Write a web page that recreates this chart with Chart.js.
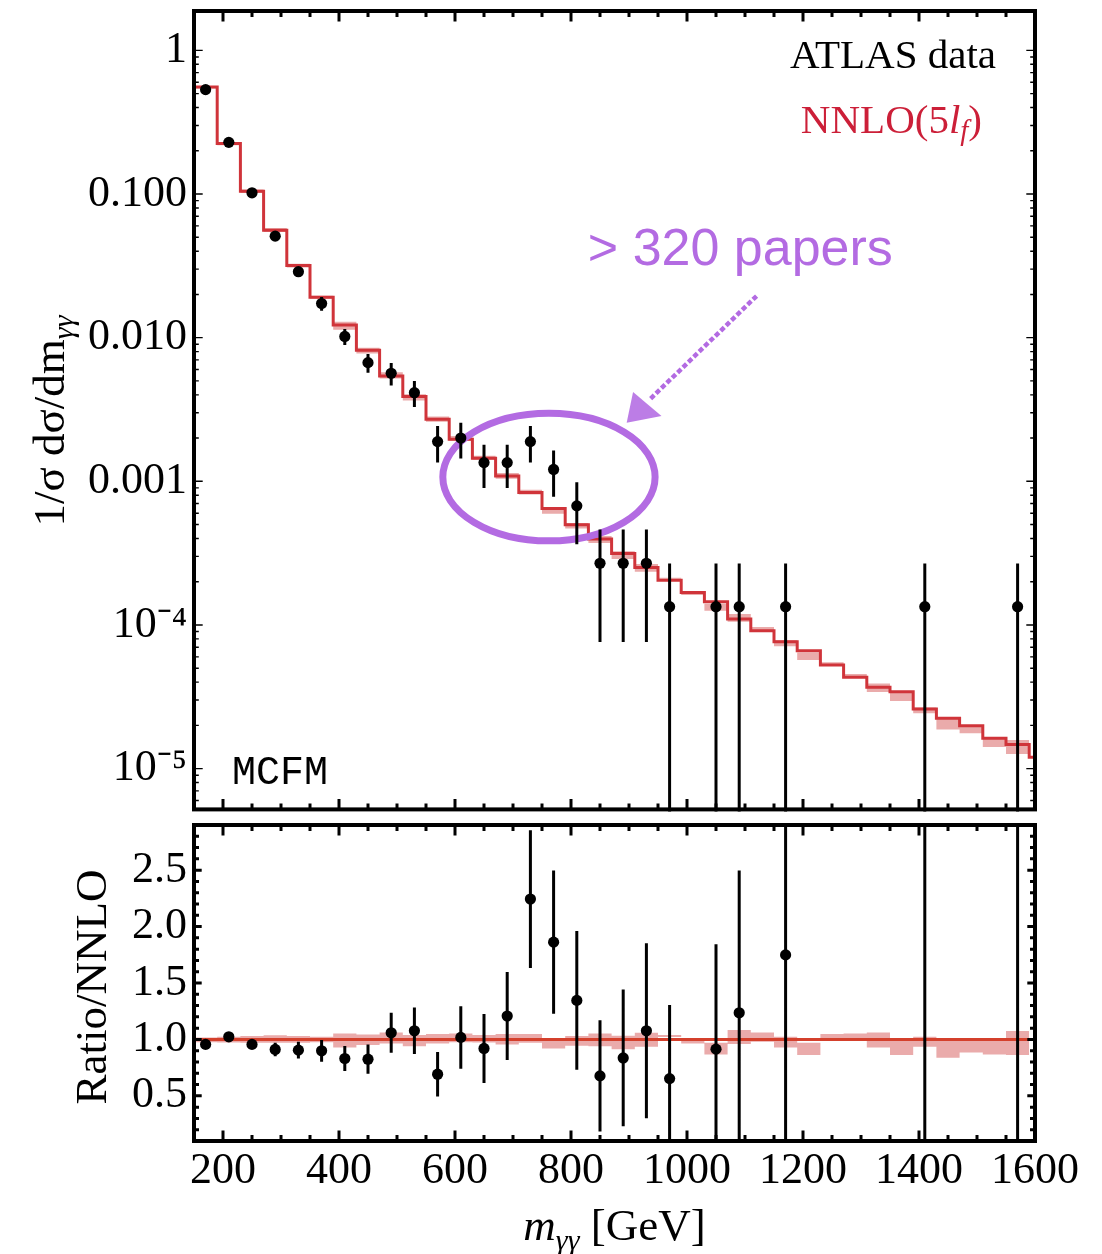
<!DOCTYPE html>
<html>
<head>
<meta charset="utf-8">
<title>Diphoton invariant mass: ATLAS data vs NNLO</title>
<script src="https://cdn.jsdelivr.net/npm/chart.js@4.4.1/dist/chart.umd.min.js"></script>
<style>
  html, body { margin: 0; padding: 0; background: #fff; }
  #wrap { position: relative; width: 1102px; height: 1254px; overflow: hidden; background: #fff; }
  canvas { position: absolute; left: 0; }
  #cTop { top: 0; }
  #cRatio { top: 815px; }
</style>
</head>
<body>
<div id="wrap">
  <canvas id="cTop" width="1102" height="815"></canvas>
  <canvas id="cRatio" width="1102" height="439"></canvas>
</div>
<script>
// ---------- NNLO(5lf) prediction, 40 GeV bins (edges in GeV) ----------
const binEdges = [150, 190, 230, 270, 310, 350, 390, 430, 470, 510, 550, 590, 630, 670, 710,
  750, 790, 830, 870, 910, 950, 990, 1030, 1070, 1110, 1150, 1190, 1230, 1270, 1310, 1350,
  1390, 1430, 1470, 1510, 1550, 1590, 1630];
const nnlo = [0.556, 0.2245, 0.1046, 0.0560, 0.0318, 0.01915, 0.01224, 0.00816, 0.00540,
  0.00389, 0.00270, 0.00196, 0.00145, 0.00109, 0.000836, 0.000647, 0.000498, 0.000396,
  0.000315, 0.000251, 0.000205, 0.000168, 0.000145, 0.000110, 9.12e-5, 7.64e-5, 6.62e-5,
  5.26e-5, 4.32e-5, 3.68e-5, 3.43e-5, 2.60e-5, 2.24e-5, 1.99e-5, 1.63e-5, 1.47e-5, 1.20e-5];
// scale-uncertainty envelope relative to the central NNLO value
const bandHi = [1.018, 1.024, 1.030, 1.036, 1.030, 1.024, 1.053, 1.044, 1.062, 1.039, 1.047,
  1.053, 1.039, 1.047, 1.047, 1.010, 1.030, 1.053, 1.033, 1.059, 1.040, 0.994, 0.970, 1.083,
  1.062, 1.024, 0.970, 1.047, 1.053, 1.062, 1.000, 1.024, 1.000, 1.000, 1.000, 1.074];
const bandLo = [0.976, 0.973, 0.970, 0.970, 0.970, 0.976, 0.929, 0.950, 0.964, 0.940, 0.964,
  0.976, 0.973, 0.956, 0.970, 0.920, 0.944, 0.940, 0.914, 0.935, 1.022, 0.964, 0.867, 0.959,
  0.979, 0.929, 0.861, 0.994, 1.000, 0.929, 0.861, 0.935, 0.837, 0.884, 0.867, 0.861];

// ---------- ATLAS measurement ----------
const dataMass = [170, 210, 250, 290, 330, 370, 410, 450, 490, 530, 570, 610, 650, 690, 730,
  770, 810, 850, 890, 930, 970, 1050, 1090, 1170, 1410, 1570];
const dataXsec = [0.533, 0.229, 0.102, 0.0509, 0.0288, 0.0173, 0.0102, 0.0067, 0.00565,
  0.00414, 0.00189, 0.00200, 0.00135, 0.00135, 0.00189, 0.00121, 0.000675, 0.000269,
  0.000269, 0.000269, 0.000134, 0.000134, 0.000134, 0.000134, 0.000134, 0.000134];
const dataXsecErr = [0.006, 0.004, 0.0025, 0.0033, 0.0023, 0.0019, 0.0013, 0.0010, 0.0010,
  0.00085, 0.00054, 0.00056, 0.00045, 0.00045, 0.00054, 0.00043, 0.00031, 0.000193,
  0.000193, 0.000193, 0.000134, 0.000134, 0.000134, 0.000134, 0.000134, 0.000134];
const dataRatio = [0.956, 1.023, 0.956, 0.911, 0.905, 0.899, 0.831, 0.825, 1.059, 1.077,
  0.692, 1.018, 0.920, 1.207, 2.244, 1.862, 1.346, 0.677, 0.836, 1.077, 0.653, 0.914, 1.236,
  1.749, 5.15, 9.10];
const dataRatioErr = [0.015, 0.020, 0.025, 0.059, 0.074, 0.096, 0.111, 0.130, 0.178, 0.207,
  0.197, 0.277, 0.305, 0.390, 0.610, 0.634, 0.615, 0.492, 0.606, 0.775, 0.653, 0.930, 1.260,
  1.749, 5.15, 9.10];

// ---------- axis ticks ----------
const topTickValues = [1, 0.1, 0.01, 0.001, 1e-4, 1e-5];
const topTickLabels = ['1', '0.100', '0.010', '0.001', '10\u207B\u2074', '10\u207B\u2075'];
const ratioTickValues = [0.5, 1.0, 1.5, 2.0, 2.5];
const ratioTickLabels = ['0.5', '1.0', '1.5', '2.0', '2.5'];
const massTickValues = [200, 400, 600, 800, 1000, 1200, 1400, 1600];
const massTickLabels = ['200', '400', '600', '800', '1000', '1200', '1400', '1600'];

// ---------- styling ----------
const SERIF = '"Liberation Serif", "Times New Roman", serif';
const RED = '#d0343a';
const RED_RATIO = '#d4402c';
const BAND = '#eaabab';
const PURPLE = '#b36be2';
const X_MIN = 150, X_MAX = 1600;

// step outline of a binned quantity: two corners per bin
function stepPoints(values) {
  const pts = [];
  values.forEach((v, i) => {
    pts.push({ x: binEdges[i], y: v });
    pts.push({ x: binEdges[i + 1], y: v });
  });
  return pts;
}

function labelFor(values, labels, v, log) {
  for (let j = 0; j < values.length; j++) {
    const d = log ? Math.abs(Math.log10(v) - Math.log10(values[j])) : Math.abs(v - values[j]);
    if (d < 1e-6) return labels[j];
  }
  return '';
}

// keep the plot frame exactly where the layout padding puts it
function noScalePadding(s) {
  s.paddingTop = 0; s.paddingBottom = 0; s.paddingLeft = 0; s.paddingRight = 0;
}

// frame with inward-pointing ticks on all four sides
function framePlugin(cfg) {
  return {
    id: 'frameTicks',
    afterDraw(chart) {
      const { ctx, chartArea: a, scales } = chart;
      const xs = scales.x, ys = scales.y;
      ctx.save();
      ctx.strokeStyle = '#000';
      ctx.beginPath();
      ctx.rect(a.left, a.top, a.right - a.left, a.bottom - a.top);
      ctx.clip();
      const seg = (x1, y1, x2, y2) => { ctx.moveTo(x1, y1); ctx.lineTo(x2, y2); };
      // mass ticks every 50 GeV, long ones every 200 GeV
      ctx.lineWidth = 3;
      ctx.beginPath();
      for (let m = 200; m <= X_MAX; m += 50) {
        const px = xs.getPixelForValue(m);
        const L = (m % 200 === 0) ? 10.5 : 6;
        seg(px, a.top, px, a.top + L);
        seg(px, a.bottom, px, a.bottom - L);
      }
      ctx.stroke();
      // vertical-axis ticks
      ctx.lineWidth = cfg.yTickWidth;
      ctx.beginPath();
      cfg.yTicks(ys).forEach(t => {
        const py = ys.getPixelForValue(t.v);
        if (py < a.top + 1 || py > a.bottom - 1) return;
        const L = t.major ? cfg.yMajor : cfg.yMinor;
        seg(a.left, py, a.left + L, py);
        seg(a.right, py, a.right - L, py);
      });
      ctx.stroke();
      ctx.restore();
      ctx.save();
      ctx.strokeStyle = '#000';
      ctx.lineWidth = 4;
      ctx.strokeRect(a.left, a.top, a.right - a.left, a.bottom - a.top);
      ctx.restore();
    }
  };
}

function drawErrorBars(chart, vals, errs) {
  const { ctx, chartArea: a, scales } = chart;
  const xs = scales.x, ys = scales.y;
  const isLog = ys.type === 'logarithmic';
  ctx.save();
  ctx.beginPath();
  ctx.rect(a.left, a.top - 2, a.right - a.left, a.bottom - a.top + 4);
  ctx.clip();
  ctx.strokeStyle = '#000';
  ctx.lineWidth = 3;
  ctx.beginPath();
  dataMass.forEach((m, i) => {
    const px = xs.getPixelForValue(m);
    const hi = vals[i] + errs[i];
    const lo = vals[i] - errs[i];
    const yHi = Math.max(ys.getPixelForValue(hi), a.top - 5);
    const yLo = (isLog && lo <= 0) ? a.bottom + 5 : Math.min(ys.getPixelForValue(lo), a.bottom + 5);
    ctx.moveTo(px, yHi);
    ctx.lineTo(px, yLo);
  });
  ctx.stroke();
  ctx.restore();
}

// text made of differently styled pieces; align 'right' | 'left' | 'center'
function drawPieces(ctx, pieces, x, baseline, align) {
  let w = 0;
  pieces.forEach(p => { ctx.font = p.font; p.w = ctx.measureText(p.t).width; w += p.w; });
  let cx = align === 'right' ? x - w : (align === 'center' ? x - w / 2 : x);
  ctx.textAlign = 'left';
  ctx.textBaseline = 'alphabetic';
  pieces.forEach(p => {
    ctx.font = p.font;
    ctx.fillStyle = p.color || '#000';
    ctx.fillText(p.t, cx, baseline + (p.dy || 0));
    cx += p.w;
  });
}

// callout around the 700-800 GeV excess
const callout = {
  ellipse: { m: 762, y: 1.07e-3, halfWidthGeV: 183, halfHeightDecades: 0.444 },
  note: { text: '> 320 papers', m: 829, y: 0.0323 },
  arrowFrom: { m: 1120, y: 0.0195 },
  arrowTo: { m: 936, y: 0.00372 },
  head: [[907, 0.00419], [896, 0.00256], [956, 0.00285]]
};

function build() {
  const NNLO_INDEX = 2;

  // ================= upper panel =================
  const topDatasets = [
    { type: 'line', label: 'band hi', data: stepPoints(nnlo.slice(0, bandHi.length).map((v, i) => v * bandHi[i])),
      borderWidth: 0, pointRadius: 0, fill: false, order: 4 },
    { type: 'line', label: 'band lo', data: stepPoints(nnlo.slice(0, bandLo.length).map((v, i) => v * bandLo[i])),
      borderWidth: 0, pointRadius: 0, fill: '-1', backgroundColor: BAND, order: 3 },
    { type: 'line', label: 'NNLO(5lf)', data: stepPoints(nnlo),
      borderColor: RED, borderWidth: 3, borderJoinStyle: 'miter', pointRadius: 0, fill: false, order: 2 },
    { type: 'scatter', label: 'ATLAS data', data: dataMass.map((m, i) => ({ x: m, y: dataXsec[i] })),
      pointRadius: 5.6, backgroundColor: '#000', borderWidth: 0, order: 1 }
  ];

  const topPlugins = [
    {
      id: 'topExtras',
      afterDatasetDraw(chart, args) {
        if (args.index !== NNLO_INDEX) return;
        const { ctx, scales } = chart;
        const xs = scales.x, ys = scales.y;
        // ellipse
        const e = callout.ellipse;
        const cx = xs.getPixelForValue(e.m), cy = ys.getPixelForValue(e.y);
        const rx = xs.getPixelForValue(e.m + e.halfWidthGeV) - cx;
        const ry = cy - ys.getPixelForValue(e.y * Math.pow(10, e.halfHeightDecades));
        ctx.save();
        ctx.strokeStyle = PURPLE;
        ctx.lineWidth = 7;
        ctx.beginPath();
        ctx.ellipse(cx, cy, rx, ry, 0, 0, Math.PI * 2);
        ctx.stroke();
        ctx.restore();
        drawErrorBars(chart, dataXsec, dataXsecErr);
      },
      afterDraw(chart) {
        const { ctx, chartArea: a, scales } = chart;
        const xs = scales.x, ys = scales.y;
        ctx.save();
        // arrow
        const p0 = [xs.getPixelForValue(callout.arrowFrom.m), ys.getPixelForValue(callout.arrowFrom.y)];
        const p1 = [xs.getPixelForValue(callout.arrowTo.m), ys.getPixelForValue(callout.arrowTo.y)];
        ctx.strokeStyle = PURPLE;
        ctx.lineWidth = 4.5;
        ctx.setLineDash([5, 2.5]);
        ctx.beginPath();
        ctx.moveTo(p0[0], p0[1]);
        ctx.lineTo(p1[0], p1[1]);
        ctx.stroke();
        ctx.setLineDash([]);
        ctx.globalAlpha = 0.88;
        ctx.fillStyle = PURPLE;
        ctx.beginPath();
        callout.head.forEach(([m, v], k) => {
          const px = xs.getPixelForValue(m), py = ys.getPixelForValue(v);
          if (k === 0) ctx.moveTo(px, py); else ctx.lineTo(px, py);
        });
        ctx.closePath();
        ctx.fill();
        ctx.globalAlpha = 1;
        // note text
        ctx.fillStyle = PURPLE;
        ctx.font = '52px "Liberation Sans", Arial, sans-serif';
        ctx.textAlign = 'left';
        ctx.textBaseline = 'alphabetic';
        ctx.fillText(callout.note.text, xs.getPixelForValue(callout.note.m), ys.getPixelForValue(callout.note.y));

        // legend text
        drawPieces(ctx, [{ t: 'ATLAS data', font: '41px ' + SERIF }], a.right - 39, a.top + 57, 'right');
        const C = '#cc1f38';
        drawPieces(ctx, [
          { t: 'NNLO(5', font: '41px ' + SERIF, color: C },
          { t: 'l', font: 'italic 41px ' + SERIF, color: C },
          { t: 'f', font: 'italic 29px ' + SERIF, color: C, dy: 7 },
          { t: ')', font: '41px ' + SERIF, color: C }
        ], a.right - 53, a.top + 122, 'right');

        // generator tag
        ctx.fillStyle = '#000';
        ctx.font = '40px "Liberation Mono", "Courier New", monospace';
        ctx.textAlign = 'left';
        ctx.fillText('MCFM', a.left + 38, a.bottom - 25);

        // vertical axis title
        ctx.translate(64, 421);
        ctx.rotate(-Math.PI / 2);
        drawPieces(ctx, [
          { t: '1/\u03C3 d\u03C3/dm', font: '45px ' + SERIF },
          { t: '\u03B3\u03B3', font: 'italic 30px ' + SERIF, dy: 9 }
        ], 0, 0, 'center');
        ctx.restore();
      }
    },
    framePlugin({
      yTickWidth: 1.4, yMajor: 8.7, yMinor: 4.8,
      yTicks: (ys) => {
        const t = [];
        for (let k = -6; k <= 0; k++) {
          for (let d = 1; d <= 9; d++) t.push({ v: d * Math.pow(10, k), major: d === 1 });
        }
        return t;
      }
    })
  ];

  new Chart(document.getElementById('cTop'), {
    type: 'scatter',
    data: { datasets: topDatasets },
    options: {
      responsive: false, animation: false, devicePixelRatio: 1, events: [],
      layout: { padding: { left: 0, right: 67, top: 11, bottom: 4 } },
      plugins: { legend: { display: false }, tooltip: { enabled: false } },
      scales: {
        x: { type: 'linear', min: X_MIN, max: X_MAX, display: false },
        y: {
          type: 'logarithmic', min: 5.2e-6, max: 1.88, position: 'left',
          afterBuildTicks: (s) => { s.ticks = topTickValues.map(v => ({ value: v })); },
          afterFit: (s) => { s.width = 194; noScalePadding(s); },
          grid: { display: false, drawTicks: false },
          border: { display: false },
          ticks: {
            autoSkip: false, padding: 7, color: '#000',
            font: { family: SERIF, size: 44 },
            callback: (v) => labelFor(topTickValues, topTickLabels, v, true)
          }
        }
      }
    },
    plugins: topPlugins
  });

  // ================= ratio panel =================
  const ratioDatasets = [
    { type: 'line', label: 'band hi', data: stepPoints(bandHi), borderWidth: 0, pointRadius: 0, fill: false, order: 4 },
    { type: 'line', label: 'band lo', data: stepPoints(bandLo), borderWidth: 0, pointRadius: 0,
      fill: '-1', backgroundColor: BAND, order: 3 },
    { type: 'line', label: 'NNLO / NNLO',
      data: [{ x: binEdges[0], y: 1 }, { x: binEdges[bandHi.length], y: 1 }],
      borderColor: RED_RATIO, borderWidth: 3, pointRadius: 0, fill: false, order: 2 },
    { type: 'scatter', label: 'data / NNLO', data: dataMass.map((m, i) => ({ x: m, y: dataRatio[i] })),
      pointRadius: 5.6, backgroundColor: '#000', borderWidth: 0, order: 1 }
  ];

  const ratioPlugins = [
    {
      id: 'ratioExtras',
      afterDatasetDraw(chart, args) {
        if (args.index !== NNLO_INDEX) return;
        drawErrorBars(chart, dataRatio, dataRatioErr);
      },
      afterDraw(chart) {
        const { ctx, chartArea: a } = chart;
        ctx.save();
        ctx.fillStyle = '#000';
        // horizontal axis title
        drawPieces(ctx, [
          { t: 'm', font: 'italic 45px ' + SERIF },
          { t: '\u03B3\u03B3', font: 'italic 30px ' + SERIF, dy: 10 },
          { t: ' [GeV]', font: '45px ' + SERIF }
        ], (a.left + a.right) / 2, 425, 'center');
        // vertical axis title
        ctx.translate(106, 172);
        ctx.rotate(-Math.PI / 2);
        drawPieces(ctx, [{ t: 'Ratio/NNLO', font: '45px ' + SERIF }], 0, 0, 'center');
        ctx.restore();
      }
    },
    framePlugin({
      yTickWidth: 3, yMajor: 7.7, yMinor: 5,
      yTicks: () => {
        const t = [];
        for (let k = 1; k <= 29; k++) t.push({ v: k / 10, major: k % 5 === 0 });
        return t;
      }
    })
  ];

  new Chart(document.getElementById('cRatio'), {
    type: 'scatter',
    data: { datasets: ratioDatasets },
    options: {
      responsive: false, animation: false, devicePixelRatio: 1, events: [],
      layout: { padding: { left: 0, right: 67, top: 10, bottom: 0 } },
      plugins: { legend: { display: false }, tooltip: { enabled: false } },
      scales: {
        x: {
          type: 'linear', min: X_MIN, max: X_MAX, position: 'bottom',
          afterBuildTicks: (s) => { s.ticks = massTickValues.map(v => ({ value: v })); },
          afterFit: (s) => { s.height = 113; noScalePadding(s); },
          grid: { display: false, drawTicks: false },
          border: { display: false },
          ticks: {
            autoSkip: false, maxRotation: 0, padding: 4, color: '#000',
            font: { family: SERIF, size: 44 },
            callback: (v) => labelFor(massTickValues, massTickLabels, v, false)
          }
        },
        y: {
          type: 'linear', min: 0.1, max: 2.9, position: 'left',
          afterBuildTicks: (s) => { s.ticks = ratioTickValues.map(v => ({ value: v })); },
          afterFit: (s) => { s.width = 194; noScalePadding(s); },
          grid: { display: false, drawTicks: false },
          border: { display: false },
          ticks: {
            autoSkip: false, padding: 7, color: '#000',
            font: { family: SERIF, size: 44 },
            callback: (v) => labelFor(ratioTickValues, ratioTickLabels, v, false)
          }
        }
      }
    },
    plugins: ratioPlugins
  });
}

const fontsWanted = ['44px "Liberation Serif"', 'italic 44px "Liberation Serif"',
  '52px "Liberation Sans"', '40px "Liberation Mono"'];
Promise.all(fontsWanted.map(f => document.fonts.load(f))).then(build, build);
</script>
</body>
</html>
